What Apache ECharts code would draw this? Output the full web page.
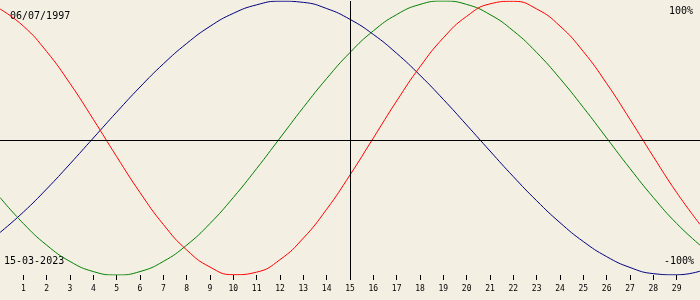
<!DOCTYPE html>
<html>
<head>
<meta charset="utf-8">
<script src="https://cdn.jsdelivr.net/npm/echarts@6/dist/echarts.min.js"></script>
<style>
html,body{margin:0;padding:0;background:#f3efe3;}
#chart{width:700px;height:300px;}
</style>
</head>
<body>
<div id="chart"></div>
<script>
// day positions (0..30) across the chart
var days = [0,1,2,3,4,5,6,7,8,9,10,11,12,13,14,15,16,17,18,19,20,21,22,23,24,25,26,27,28,29,30];
// tick labels on x axis
var tickDays = [1,2,3,4,5,6,7,8,9,10,11,12,13,14,15,16,17,18,19,20,21,22,23,24,25,26,27,28,29];
// physical (red), percent
var physical = [94.2,81.7,63.1,39.8,13.6,-13.6,-39.8,-63.1,-81.7,-94.2,-99.8,-97.9,-88.8,-73.1,-52.0,-27.0,0,27.0,52.0,73.1,88.8,97.9,99.8,94.2,81.7,63.1,39.8,13.6,-13.6,-39.8,-63.1];
// emotional (green), percent
var emotional = [-43.4,-62.4,-78.2,-90.1,-97.5,-100,-97.5,-90.1,-78.2,-62.4,-43.4,-22.3,0,22.3,43.4,62.4,78.2,90.1,97.5,100,97.5,90.1,78.2,62.4,43.4,22.3,0,-22.3,-43.4,-62.4,-78.2];
// intellectual (blue), percent
var intellectual = [-69.0,-54.1,-37.2,-18.9,0,18.9,37.2,54.1,69.0,81.5,91.0,97.2,99.9,99.0,94.5,86.6,75.6,61.8,45.8,28.2,9.5,-9.5,-28.2,-45.8,-61.8,-75.6,-86.6,-94.5,-99.0,-99.9,-97.2];
// text labels
var birthDate = '06/07/1997';
var targetDate = '15-03-2023';
var topLabel = '100%';
var bottomLabel = '-100%';
var centerDay = 15;
var centerLineValue = -1.46;

function pairs(vals){ return days.map(function(d,i){ return [d, vals[i]]; }); }

var chart = echarts.init(document.getElementById('chart'), null, {renderer:'canvas'});
var lineFont = 'DejaVu Sans Mono';
chart.setOption({
  backgroundColor:'#f3efe3',
  animation:false,
  grid:{left:0,right:0,top:1,bottom:25},
  xAxis:{
    type:'value', min:0, max:30, interval:1, position:'bottom',
    axisLine:{show:false, onZero:false},
    splitLine:{show:false},
    axisTick:{show:true, length:5, lineStyle:{color:'#000',width:1}, customValues:tickDays},
    axisLabel:{show:true, color:'#000', fontFamily:lineFont, fontSize:8, margin:10, customValues:tickDays}
  },
  yAxis:{
    type:'value', min:-100, max:100,
    show:false, splitLine:{show:false}
  },
  graphic:[
    {type:'text', left:10, top:11, style:{text:birthDate, fill:'#000', font:'10px "DejaVu Sans Mono"'}},
    {type:'text', right:7, top:6, style:{text:topLabel, fill:'#000', font:'10px "DejaVu Sans Mono"'}},
    {type:'text', left:4, top:256, style:{text:targetDate, fill:'#000', font:'10px "DejaVu Sans Mono"'}},
    {type:'text', right:6, top:256, style:{text:bottomLabel, fill:'#000', font:'10px "DejaVu Sans Mono"'}}
  ],
  series:[
    {type:'line', data:pairs(intellectual), smooth:true, showSymbol:false, lineStyle:{color:'#000080',width:1}, itemStyle:{color:'#000080'},
     markLine:{silent:true, symbol:'none', label:{show:false}, lineStyle:{color:'#000',width:1,type:'solid'},
       data:[{xAxis:centerDay},{yAxis:centerLineValue}]}},
    {type:'line', data:pairs(emotional), smooth:true, showSymbol:false, lineStyle:{color:'#008000',width:1}, itemStyle:{color:'#008000'}},
    {type:'line', data:pairs(physical), smooth:true, showSymbol:false, lineStyle:{color:'#ff0000',width:1}, itemStyle:{color:'#ff0000'}}
  ]
});
</script>
</body>
</html>
